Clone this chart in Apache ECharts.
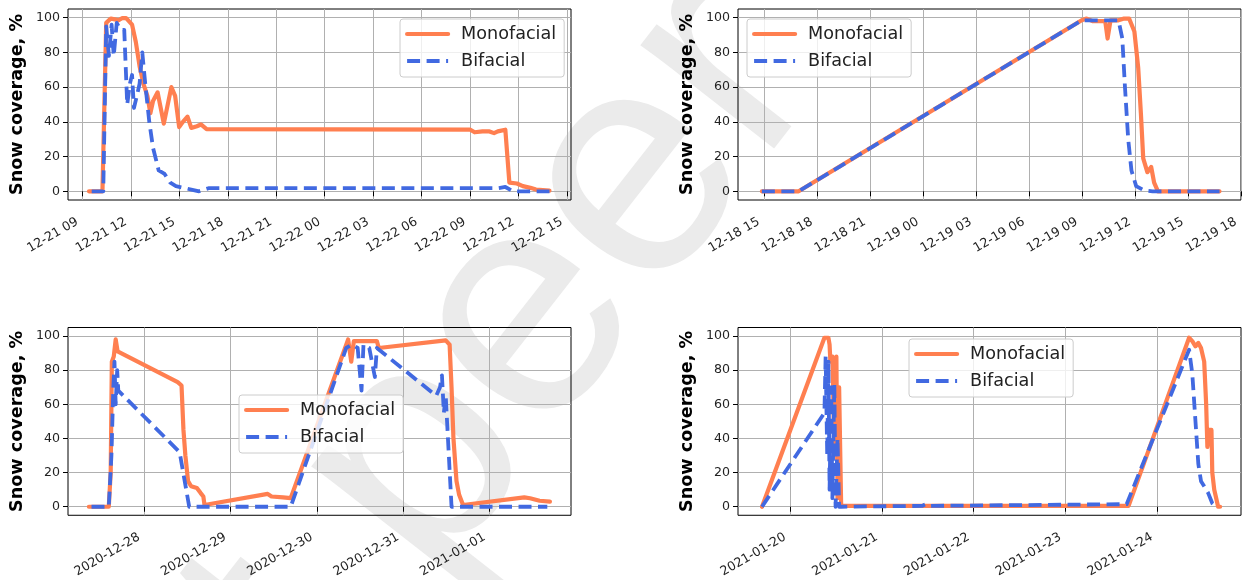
<!DOCTYPE html>
<html><head><meta charset="utf-8">
<script src="https://cdn.jsdelivr.net/npm/echarts@6/dist/echarts.min.js"></script>
<style>html,body{margin:0;padding:0;background:#fff}#c{width:1243px;height:580px}</style>
</head><body><div id="c"></div>
<script>
// ---------------- data ----------------
const seriesNames = ['Monofacial', 'Bifacial'];
const yTicks = [0, 20, 40, 60, 80, 100];

const p1Ticks = ['2020-12-21 09:00','2020-12-21 12:00','2020-12-21 15:00','2020-12-21 18:00','2020-12-21 21:00','2020-12-22 00:00','2020-12-22 03:00','2020-12-22 06:00','2020-12-22 09:00','2020-12-22 12:00','2020-12-22 15:00'];
const p2Ticks = ['2020-12-18 15:00','2020-12-18 18:00','2020-12-18 21:00','2020-12-19 00:00','2020-12-19 03:00','2020-12-19 06:00','2020-12-19 09:00','2020-12-19 12:00','2020-12-19 15:00','2020-12-19 18:00'];
const p3Ticks = ['2020-12-28 00:00','2020-12-29 00:00','2020-12-30 00:00','2020-12-31 00:00','2021-01-01 00:00'];
const p4Ticks = ['2021-01-20 00:00','2021-01-21 00:00','2021-01-22 00:00','2021-01-23 00:00','2021-01-24 00:00'];

const p1Range = ['2020-12-21 08:06', '2020-12-22 15:15'];
const p2Range = ['2020-12-18 13:32', '2020-12-19 18:00'];
const p3Range = ['2020-12-27 02:49', '2021-01-01 22:36'];
const p4Range = ['2021-01-19 10:19', '2021-01-24 21:58'];

const p1Mono = [
 ['2020-12-21 09:24',0],['2020-12-21 10:14',0],['2020-12-21 10:28',97],['2020-12-21 10:45',99.5],['2020-12-21 11:00',99],
 ['2020-12-21 11:14',98.5],['2020-12-21 11:28',99.8],['2020-12-21 11:42',99.8],['2020-12-21 11:49',99],['2020-12-21 12:04',96],
 ['2020-12-21 12:18',86],['2020-12-21 12:32',72],['2020-12-21 12:46',62],['2020-12-21 13:01',55],['2020-12-21 13:12',45],
 ['2020-12-21 13:22',52],['2020-12-21 13:39',57],['2020-12-21 14:02',39],['2020-12-21 14:30',60],['2020-12-21 14:44',55],
 ['2020-12-21 14:59',37],['2020-12-21 15:13',40],['2020-12-21 15:30',43],['2020-12-21 15:44',36.5],['2020-12-21 16:05',37.5],
 ['2020-12-21 16:20',38.5],['2020-12-21 16:41',35.8],['2020-12-22 09:01',35.5],['2020-12-22 09:17',34],['2020-12-22 09:46',34.5],
 ['2020-12-22 10:12',34.5],['2020-12-22 10:29',33.5],['2020-12-22 10:43',34.5],['2020-12-22 11:11',35.5],['2020-12-22 11:26',5],
 ['2020-12-22 11:54',4.5],['2020-12-22 12:16',3],['2020-12-22 12:44',2],['2020-12-22 13:05',1],['2020-12-22 13:55',0.4]
];
const p1Bi = [
 ['2020-12-21 09:34',0],['2020-12-21 10:17',0],['2020-12-21 10:28',95],['2020-12-21 10:38',78],['2020-12-21 10:48',96],
 ['2020-12-21 10:56',78],['2020-12-21 11:07',97],['2020-12-21 11:21',93],['2020-12-21 11:35',93],['2020-12-21 11:46',50],
 ['2020-12-21 11:56',62],['2020-12-21 12:04',67],['2020-12-21 12:11',48],['2020-12-21 12:22',55],['2020-12-21 12:32',62],
 ['2020-12-21 12:42',80],['2020-12-21 12:53',62],['2020-12-21 13:08',40],['2020-12-21 13:22',25],['2020-12-21 13:43',12],
 ['2020-12-21 14:05',10],['2020-12-21 14:26',5],['2020-12-21 14:47',3],['2020-12-21 15:16',2],['2020-12-21 15:44',1],
 ['2020-12-21 16:13',0],['2020-12-21 16:48',1.8],['2020-12-22 10:43',1.8],['2020-12-22 11:11',2.5],['2020-12-22 11:40',0],
 ['2020-12-22 13:55',0]
];
const p2Mono = [
 ['2020-12-18 14:53',0],['2020-12-18 16:58',0],['2020-12-19 08:59',98.5],['2020-12-19 09:16',99.5],['2020-12-19 09:36',98],
 ['2020-12-19 10:19',98],['2020-12-19 10:27',88],['2020-12-19 10:37',98.5],['2020-12-19 11:04',98.5],['2020-12-19 11:23',99.5],
 ['2020-12-19 11:40',99.5],['2020-12-19 11:58',92],['2020-12-19 12:11',71],['2020-12-19 12:20',45],['2020-12-19 12:28',19],
 ['2020-12-19 12:42',11],['2020-12-19 12:55',14],['2020-12-19 13:05',5],['2020-12-19 13:18',0],['2020-12-19 16:47',0]
];
const p2Bi = [
 ['2020-12-18 14:53',0],['2020-12-18 16:58',0],['2020-12-19 08:59',98.5],['2020-12-19 11:04',98.5],['2020-12-19 11:17',88],
 ['2020-12-19 11:26',60],['2020-12-19 11:37',30],['2020-12-19 11:48',12],['2020-12-19 12:04',3],['2020-12-19 12:31',0.5],
 ['2020-12-19 13:00',0],['2020-12-19 16:47',0]
];
const p3Mono = [
 ['2020-12-27 08:37',0],['2020-12-27 14:09',0],['2020-12-27 14:41',20],['2020-12-27 15:00',85],['2020-12-27 15:32',88],
 ['2020-12-27 16:04',98],['2020-12-27 16:36',91],['2020-12-28 09:18',73],['2020-12-28 10:22',71],['2020-12-28 10:54',45],
 ['2020-12-28 11:26',30],['2020-12-28 12:11',15],['2020-12-28 13:02',12],['2020-12-28 14:38',11],['2020-12-28 15:41',8],
 ['2020-12-28 16:26',6],['2020-12-28 16:45',1],['2020-12-29 10:19',7.5],['2020-12-29 11:23',6],['2020-12-29 14:34',5.5],
 ['2020-12-29 16:42',5],['2020-12-30 08:40',98],['2020-12-30 09:32',85],['2020-12-30 10:15',97],['2020-12-30 16:39',97],
 ['2020-12-30 17:11',93],['2020-12-31 11:47',97.5],['2020-12-31 12:52',95],['2020-12-31 13:24',70],['2020-12-31 13:56',40],
 ['2020-12-31 14:47',15],['2020-12-31 15:31',7],['2020-12-31 16:36',1],['2021-01-01 09:37',5.5],['2021-01-01 11:13',5],
 ['2021-01-01 13:52',3.5],['2021-01-01 16:45',3]
];
const p3Bi = [
 ['2020-12-27 09:21',0],['2020-12-27 14:09',0],['2020-12-27 14:53',30],['2020-12-27 15:25',70],['2020-12-27 15:44',85],
 ['2020-12-27 16:04',60],['2020-12-27 16:29',80],['2020-12-27 16:48',68],['2020-12-28 09:50',32],['2020-12-28 12:30',0],
 ['2020-12-29 16:42',0],['2020-12-30 08:08',93],['2020-12-30 09:43',95],['2020-12-30 11:19',93],['2020-12-30 12:23',68],
 ['2020-12-30 12:56',95],['2020-12-30 14:32',93],['2020-12-30 16:06',76],['2020-12-30 16:39',93],['2020-12-31 09:09',65],
 ['2020-12-31 10:12',70],['2020-12-31 10:44',77],['2020-12-31 11:16',55],['2020-12-31 11:47',65],['2020-12-31 13:24',0],
 ['2021-01-01 16:01',0]
];
const p4Mono = [
 ['2021-01-19 16:36',0],['2021-01-20 08:56',99],['2021-01-20 09:59',99],['2021-01-20 10:17',95],['2021-01-20 10:30',85],
 ['2021-01-20 11:01',88],['2021-01-20 11:32',35],['2021-01-20 12:04',88],['2021-01-20 12:22',5],['2021-01-20 12:47',70],
 ['2021-01-20 13:19',0.5],['2021-01-23 16:33',0.5],['2021-01-24 08:23',99],['2021-01-24 09:13',97],['2021-01-24 10:03',94],
 ['2021-01-24 10:48',96],['2021-01-24 11:30',93],['2021-01-24 12:20',85],['2021-01-24 12:51',60],['2021-01-24 13:10',35],
 ['2021-01-24 13:36',45],['2021-01-24 14:14',45],['2021-01-24 14:27',20],['2021-01-24 14:58',10],['2021-01-24 15:59',0],
 ['2021-01-24 16:30',0]
];
const p4Bi = [
 ['2021-01-19 16:36',0],['2021-01-20 08:56',55],['2021-01-20 09:15',88],['2021-01-20 09:40',30],['2021-01-20 09:59',85],
 ['2021-01-20 10:17',10],['2021-01-20 10:42',70],['2021-01-20 11:01',5],['2021-01-20 11:32',72],['2021-01-20 11:51',0],
 ['2021-01-20 12:22',40],['2021-01-20 12:47',0],['2021-01-20 13:19',0],['2021-01-21 10:28',0.5],['2021-01-21 11:30',1.5],
 ['2021-01-21 12:33',0.5],['2021-01-23 16:02',1.5],['2021-01-24 08:23',92],['2021-01-24 09:13',78],['2021-01-24 10:03',50],
 ['2021-01-24 10:48',25],['2021-01-24 11:30',15],['2021-01-24 12:20',12],['2021-01-24 13:23',8],['2021-01-24 14:27',2],
 ['2021-01-24 15:29',0]
];
const watermarkText = 'Preprint not peer reviewed';

// ---------------- helpers ----------------
function toMs(s) {
  const [d, t] = s.split(' ');
  const [y, m, dd] = d.split('-').map(Number);
  const [h, mi] = (t || '00:00').split(':').map(Number);
  return new Date(y, m - 1, dd, h, mi).getTime();
}
function pad(n) { return (n < 10 ? '0' : '') + n; }
function fmtHour(v) { const d = new Date(v); return pad(d.getMonth() + 1) + '-' + pad(d.getDate()) + ' ' + pad(d.getHours()); }
function fmtDay(v) { const d = new Date(v); return d.getFullYear() + '-' + pad(d.getMonth() + 1) + '-' + pad(d.getDate()); }
function conv(arr) { return arr.map(p => [toMs(p[0]), p[1]]); }

const FONT = 'DejaVu Sans';
const panels = [
  { grid: { left: 68, top: 9, width: 503, height: 191 }, ticks: p1Ticks, range: p1Range, fmt: fmtHour, mono: p1Mono, bi: p1Bi, legend: { left: 400, top: 19 } },
  { grid: { left: 738, top: 9, width: 503, height: 191 }, ticks: p2Ticks, range: p2Range, fmt: fmtHour, mono: p2Mono, bi: p2Bi, legend: { left: 747, top: 19 } },
  { grid: { left: 68, top: 327.5, width: 503, height: 191.5 }, ticks: p3Ticks, range: p3Range, fmt: fmtDay, mono: p3Mono, bi: p3Bi, legend: { left: 239, top: 395 } },
  { grid: { left: 738, top: 327.5, width: 503, height: 191.5 }, ticks: p4Ticks, range: p4Range, fmt: fmtDay, mono: p4Mono, bi: p4Bi, legend: { left: 909, top: 339 } }
];

const option = {
  animation: false,
  backgroundColor: '#ffffff',
  graphic: [{
    type: 'text', z: -10,
    x: -711, y: 1906, rotation: 52 * Math.PI / 180,
    style: { text: watermarkText, fill: '#ebebeb', fontSize: 320, fontFamily: 'Liberation Sans', align: 'left', verticalAlign: 'middle' },
    silent: true
  }],
  grid: [], xAxis: [], yAxis: [], series: [], legend: []
};

panels.forEach((p, i) => {
  option.grid.push(Object.assign({ show: true, borderColor: '#000', borderWidth: 1, backgroundColor: 'transparent', containLabel: false }, p.grid));
  const tickVals = p.ticks.map(toMs);
  option.xAxis.push({
    type: 'value', gridIndex: i, min: toMs(p.range[0]), max: toMs(p.range[1]),
    axisLine: { show: false },
    axisTick: { show: true, length: 5, lineStyle: { color: '#000', width: 1 }, customValues: tickVals },
    axisLabel: { customValues: tickVals, rotate: 30, margin: 18, padding: [0, 6, 0, 0], formatter: p.fmt, fontSize: 12.6, color: '#222', fontFamily: FONT, hideOverlap: false },
    splitLine: { show: true, lineStyle: { color: '#b0b0b0', width: 1 } }
  });
  option.yAxis.push({
    type: 'value', gridIndex: i, min: -5, max: 105,
    axisLine: { show: false },
    axisTick: { show: true, length: 5, lineStyle: { color: '#000', width: 1 }, customValues: yTicks },
    axisLabel: { customValues: yTicks, margin: 8, fontSize: 12.6, color: '#222', fontFamily: FONT },
    splitLine: { show: true, lineStyle: { color: '#b0b0b0', width: 1 } },
    name: 'Snow coverage, %', nameLocation: 'middle', nameGap: 42,
    nameTextStyle: { fontWeight: 'bold', fontSize: 17.6, color: '#000', fontFamily: FONT }
  });
  option.series.push({
    name: seriesNames[0], type: 'line', xAxisIndex: i, yAxisIndex: i, data: conv(p.mono),
    symbol: 'none', showSymbol: false, z: 2,
    lineStyle: { color: '#FF7F50', width: 4.2, join: 'round', cap: 'round' }, itemStyle: { color: '#FF7F50' }
  });
  option.series.push({
    name: seriesNames[1], type: 'line', xAxisIndex: i, yAxisIndex: i, data: conv(p.bi),
    symbol: 'none', showSymbol: false, z: 3,
    lineStyle: { color: '#4169E1', width: 3.8, type: [13, 6.5], join: 'round' }, itemStyle: { color: '#4169E1' }
  });
  option.legend.push({
    left: p.legend.left, top: p.legend.top, orient: 'vertical',
    backgroundColor: 'rgba(255,255,255,0.8)', borderColor: '#cccccc', borderWidth: 1, borderRadius: 3,
    padding: [5, 8, 6, 5], itemWidth: 41, itemHeight: 14, itemGap: 7,
    selectedMode: false,
    itemStyle: { opacity: 0 },
    textStyle: { fontSize: 17.6, fontFamily: FONT, color: '#222', lineHeight: 20, padding: [0, 0, 0, 8] },
    data: [
      { name: seriesNames[0], itemStyle: { opacity: 0 }, lineStyle: { width: 4.2, color: '#FF7F50' } },
      { name: seriesNames[1], itemStyle: { opacity: 0 }, lineStyle: { width: 3.8, color: '#4169E1', type: [13, 6.5] } }
    ]
  });
});

const chart = echarts.init(document.getElementById('c'), null, { renderer: 'canvas' });
chart.setOption(option);
</script>
</body></html>
